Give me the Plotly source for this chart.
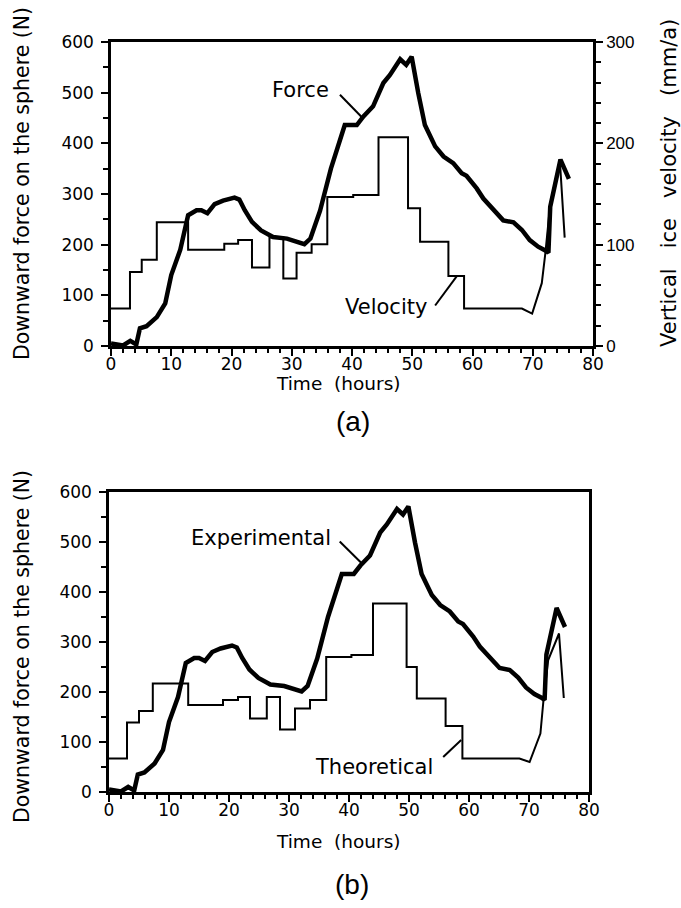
import plotly.graph_objects as go

W, H = 681, 908

# ---------------- data ----------------
# measured downward force (N) vs time (hours) – same record in (a) and (b)
force_t = [0, 2, 3.2, 4.2, 4.8, 5.9, 7.6, 9, 10, 11.5, 12.8, 14.2, 15, 16, 17.2, 18.6,
           20.5, 21.3, 22.2, 23.4, 24.9, 26.9, 29.2, 30.5, 32.1, 33.1, 34.7, 36.5, 38.8,
           40.8, 41.9, 43.5, 45.2, 46.3, 48, 49, 49.9, 51, 52.1, 53.8, 55.2, 56.8, 58.2,
           59, 60.7, 61.8, 63.5, 65.1, 66.8, 68.2, 69.5, 70.9, 72, 72.6, 72.9, 74.6, 76]
force_n = [5, 1, 10, 3, 35, 39, 57, 84, 140, 190, 258, 268, 268, 262, 280, 287,
           293, 289, 268, 245, 228, 215, 212, 208, 201, 212, 267, 350, 436,
           436, 453, 473, 519, 535, 566, 555, 571, 499, 436, 394, 374, 361, 341,
           336, 311, 291, 270, 248, 244, 229, 209, 196, 189, 184, 275, 368, 330]

# vertical ice velocity (mm/a): step start times and step values
vel_step_t = [0, 3.15, 5.1, 7.6, 12.8, 18.8, 21.1, 23.4, 26.3, 28.6, 30.8, 33.3,
              35.9, 40.2, 44.4, 49.3, 51.3, 56.0, 58.6]
vel_step_v = [37, 73, 85, 122, 95, 101, 104.5, 77.5, 107, 66.6, 92, 100.5,
              147, 149, 206, 136, 103, 69, 37]
vel_step_end = 68.2
vel_ramp_t = [69.9, 71.5, 72.1, 72.9, 74.5, 75.3]
vel_ramp_v = [32, 62, 92, 140, 183, 107]

# theoretical force (N): step start times and step values
theo_step_t = [0, 3, 5, 7.3, 13.2, 19, 21.5, 23.5, 26.3, 28.5, 31, 33.5,
               36.2, 40.4, 44, 49.6, 51.3, 56.1, 58.9]
theo_step_v = [67, 139, 162, 217, 174, 184, 190, 147, 190, 125, 167, 184,
               270, 274, 377, 250, 187, 132, 67]
theo_step_end = 68.4
theo_ramp_t = [70.1, 71.9, 72.4, 73.2, 75.0, 75.8]
theo_ramp_v = [60, 117, 182, 264, 317, 188]

x_ticks = [0, 10, 20, 30, 40, 50, 60, 70, 80]


def steps(ts, vs, end, rt, rv):
    xs, ys = [], []
    bounds = ts[1:] + [end]
    for t0, t1, v in zip(ts, bounds, vs):
        xs += [t0, t1]
        ys += [v, v]
    return xs + rt, ys + rv


def px(x):
    return x / W


def py(y):
    return 1 - y / H


vx, vy = steps(vel_step_t, vel_step_v, vel_step_end, vel_ramp_t, vel_ramp_v)
tx, ty = steps(theo_step_t, theo_step_v, theo_step_end, theo_ramp_t, theo_ramp_v)

fig = go.Figure()
fig.add_trace(go.Scatter(x=vx, y=vy, xaxis="x", yaxis="y2", mode="lines",
                         line=dict(color="black", width=2), showlegend=False))
fig.add_trace(go.Scatter(x=force_t, y=force_n, xaxis="x", yaxis="y", mode="lines",
                         line=dict(color="black", width=4.5), showlegend=False))
fig.add_trace(go.Scatter(x=tx, y=ty, xaxis="x2", yaxis="y3", mode="lines",
                         line=dict(color="black", width=2), showlegend=False))
fig.add_trace(go.Scatter(x=force_t, y=force_n, xaxis="x2", yaxis="y3", mode="lines",
                         line=dict(color="black", width=4.5), showlegend=False))

tickfont = dict(family="DejaVu Sans", size=17, color="black")
common = dict(showgrid=False, zeroline=False, showline=True, linecolor="black",
              linewidth=2.5, ticks="outside", tickcolor="black", tickwidth=2,
              ticklen=7, tickfont=tickfont, automargin=False)

xcommon = dict(common, range=[0, 80], tickvals=x_ticks, ticklabelstandoff=-6,
               minor=dict(dtick=2, ticks="outside", ticklen=4, tickwidth=1.5,
                          tickcolor="black", showgrid=False))
ycommon = dict(common, range=[0, 600], dtick=100, ticklabelstandoff=4,
               minor=dict(dtick=50, ticks="outside", ticklen=5, tickwidth=1.5,
                          tickcolor="black", showgrid=False))

fig.update_layout(
    width=W, height=H, margin=dict(l=0, r=0, t=0, b=0),
    paper_bgcolor="white", plot_bgcolor="white",
    xaxis=dict(xcommon, domain=[px(111), px(593)], anchor="y", mirror=True),
    yaxis=dict(ycommon, domain=[py(346), py(42)], anchor="x"),
    yaxis2=dict(common, range=[0, 300], dtick=100, overlaying="y", side="right",
                anchor="x", tickfont=dict(family="Liberation Sans", size=17, color="black"),
                minor=dict(dtick=20, ticks="outside", ticklen=5, tickwidth=1.5,
                           tickcolor="black", showgrid=False)),
    xaxis2=dict(xcommon, domain=[px(109), px(589)], anchor="y3", mirror=True),
    yaxis3=dict(ycommon, domain=[py(792), py(492)], anchor="x2", mirror=True),
)

lab = dict(family="DejaVu Sans", size=20, color="black")
sp = "\u00a0"
annos = [
    dict(text="Downward force on the sphere (N)", x=px(22), y=py(184), textangle=-90,
         font=dict(family="DejaVu Sans", size=20.5, color="black")),
    dict(text=f"Vertical{sp*3}ice{sp*3}velocity{sp*3}(mm/a)", x=px(669), y=py(183),
         textangle=-90, font=dict(family="DejaVu Sans", size=21, color="black")),
    dict(text="Downward force on the sphere (N)", x=px(22), y=py(647), textangle=-90,
         font=dict(family="DejaVu Sans", size=20.5, color="black")),
    dict(text=f"Time{sp*2}(hours)", x=px(338), y=py(384), font=dict(family="DejaVu Sans", size=18.5, color="black")),
    dict(text=f"Time{sp*2}(hours)", x=px(338), y=py(841), font=dict(family="DejaVu Sans", size=18.5, color="black")),
    dict(text="(a)", x=px(353), y=py(421), font=dict(family="Liberation Sans", size=28, color="black")),
    dict(text="(b)", x=px(352), y=py(884), font=dict(family="Liberation Sans", size=28, color="black")),
]
for a in annos:
    fig.add_annotation(xref="paper", yref="paper", showarrow=False,
                       xanchor="center", yanchor="middle",
                       font=a.pop("font", lab), **a)

# series labels (data coordinates)
series_labels = [
    ("Force", "x", "y", 31.4, 505),
    ("Velocity", "x", "y", 45.6, 77),
    ("Experimental", "x2", "y3", 25.4, 508),
    ("Theoretical", "x2", "y3", 44.1, 50),
]
for txt, xr, yr, xv, yv in series_labels:
    fig.add_annotation(xref=xr, yref=yr, x=xv, y=yv, text=txt, showarrow=False,
                       xanchor="center", yanchor="middle",
                       font=dict(family="DejaVu Sans", size=21, color="black"))

pointers = [
    ("x", "y", 38.0, 496, 41.6, 452),
    ("x", "y", 53.8, 80, 57.4, 138),
    ("x2", "y3", 38.45, 501, 42.07, 458),
    ("x2", "y3", 55.7, 70, 58.7, 104),
]
for xr, yr, x0, y0, x1, y1 in pointers:
    fig.add_shape(type="line", xref=xr, yref=yr, x0=x0, y0=y0, x1=x1, y1=y1,
                  line=dict(color="black", width=2))

fig.write_html("out.html")
